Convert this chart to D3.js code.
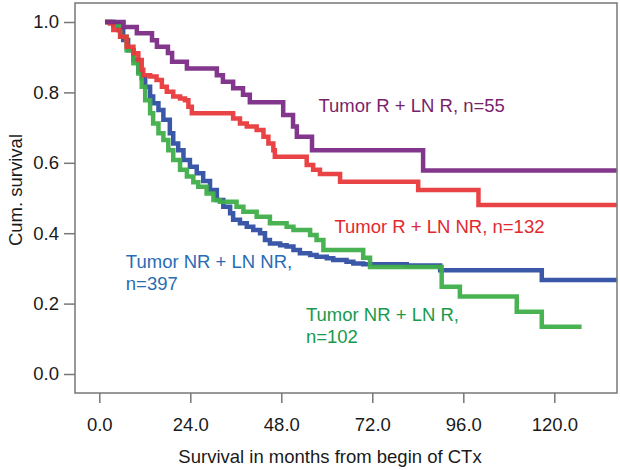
<!DOCTYPE html>
<html><head><meta charset="utf-8">
<script src="https://cdn.jsdelivr.net/npm/d3@7"></script>
<style>
body{margin:0;background:#fff}
text{font-family:"Liberation Sans",Arial,Helvetica,sans-serif}
</style>
</head><body>
<svg id="chart" width="620" height="470"></svg>
<script>
// ---- data ----
const xTicks = [0, 24, 48, 72, 96, 120];
const yTicks = [0, 0.2, 0.4, 0.6, 0.8, 1.0];
const xTitle = "Survival in months from begin of CTx";
const yTitle = "Cum. survival";

// Tumor R + LN R, n=55
const purpleMonths = [1.5, 6.4, 9.9, 13.9, 15.2, 18.1, 19.2, 23.1, 31.0, 32.6, 35.3, 37.9, 39.7, 48.5, 51.1, 52.1, 56.1, 85.4, 136.5];
const purpleSurv   = [1.0, 0.986, 0.968, 0.948, 0.930, 0.912, 0.887, 0.868, 0.849, 0.830, 0.812, 0.793, 0.772, 0.736, 0.703, 0.674, 0.636, 0.578, 0.578];

// Tumor R + LN NR, n=132
const redMonths = [1.5, 2.8, 3.7, 5.5, 7.2, 9.0, 10.3, 11.2, 11.6, 13.4, 15.1, 16.5, 17.8, 19.5, 21.3, 22.6, 23.5, 24.4, 35.3, 37.1, 38.9, 41.5, 43.3, 44.6, 45.9, 46.3, 54.7, 56.4, 58.2, 63.5, 84.1, 100.0, 136.5];
const redSurv   = [1.0, 0.996, 0.977, 0.958, 0.930, 0.911, 0.892, 0.864, 0.849, 0.845, 0.835, 0.816, 0.802, 0.788, 0.783, 0.778, 0.759, 0.741, 0.726, 0.712, 0.703, 0.693, 0.674, 0.655, 0.636, 0.617, 0.594, 0.580, 0.568, 0.546, 0.523, 0.480, 0.480];

// Tumor NR + LN NR, n=397
const blueMonths = [1.5, 3.7, 5.0, 6.3, 7.6, 9.0, 10.3, 11.2, 12.1, 13.4, 14.2, 15.6, 16.9, 18.6, 19.5, 20.8, 22.2, 23.9, 25.7, 27.4, 29.2, 31.0, 32.7, 34.5, 35.3, 37.1, 38.9, 40.6, 42.4, 43.7, 45.0, 47.7, 49.4, 51.2, 52.9, 55.6, 57.3, 60.0, 61.7, 65.2, 67.0, 69.6, 81.1, 89.9, 116.7, 136.5];
const blueSurv   = [1.0, 0.996, 0.977, 0.949, 0.920, 0.892, 0.859, 0.840, 0.816, 0.788, 0.769, 0.750, 0.722, 0.684, 0.655, 0.636, 0.608, 0.589, 0.570, 0.548, 0.523, 0.494, 0.475, 0.457, 0.438, 0.428, 0.418, 0.409, 0.400, 0.381, 0.371, 0.366, 0.362, 0.352, 0.343, 0.338, 0.333, 0.329, 0.324, 0.319, 0.314, 0.312, 0.308, 0.295, 0.267, 0.267];

// Tumor NR + LN R, n=102
const greenMonths = [1.5, 3.7, 5.5, 7.2, 9.0, 10.3, 11.2, 12.1, 13.4, 14.2, 15.6, 16.9, 18.2, 19.5, 21.3, 23.1, 24.8, 26.1, 28.3, 30.1, 31.8, 36.2, 38.0, 41.5, 45.0, 49.4, 51.2, 55.6, 57.3, 59.1, 69.6, 71.4, 90.3, 95.1, 110.1, 116.7, 127.2];
const greenSurv   = [1.0, 0.991, 0.958, 0.920, 0.883, 0.854, 0.816, 0.778, 0.741, 0.712, 0.684, 0.665, 0.636, 0.608, 0.580, 0.561, 0.545, 0.532, 0.513, 0.494, 0.489, 0.475, 0.461, 0.447, 0.428, 0.418, 0.409, 0.395, 0.381, 0.352, 0.330, 0.304, 0.248, 0.220, 0.177, 0.134, 0.134];

const seriesNames  = ["Tumor NR + LN NR", "Tumor NR + LN R", "Tumor R + LN NR", "Tumor R + LN R"];
const seriesColors = ["#2f4ea3", "#3fae49", "#e8393b", "#7b2c86"];
const labelColors  = ["#2a6cb3", "#179a4c", "#e2292f", "#7a1f6c"];
const labelLines = [
  ["Tumor NR + LN NR,", "n=397"],
  ["Tumor NR + LN R,", "n=102"],
  ["Tumor R + LN NR, n=132"],
  ["Tumor R + LN R, n=55"]
];
const labelAnchors = [[7, 0.30], [54.5, 0.15], [62, 0.40], [57.8, 0.745]]; // [month, survival] of label top-left line baseline

// ---- drawing ----
const svg = d3.select("#chart");
const frame = {left: 75, top: 3, right: 617, bottom: 393};
const x = d3.scaleLinear().domain([0, 120]).range([99.3, 554.3]);
const y = d3.scaleLinear().domain([0, 1]).range([374, 22]);

svg.append("defs").append("clipPath").attr("id", "clip")
  .append("rect").attr("x", frame.left).attr("y", frame.top)
  .attr("width", frame.right - frame.left).attr("height", frame.bottom - frame.top);

const series = [
  {m: blueMonths, s: blueSurv},
  {m: greenMonths, s: greenSurv},
  {m: redMonths, s: redSurv},
  {m: purpleMonths, s: purpleSurv}
];

const line = d3.line().x(d => x(d[0])).y(d => y(d[1])).curve(d3.curveStepAfter);
const g = svg.append("g").attr("clip-path", "url(#clip)");
series.forEach((ser, i) => {
  const pts = ser.m.map((m, j) => [m, ser.s[j]]);
  g.append("path").datum(pts)
    .attr("d", line)
    .attr("fill", "none")
    .attr("stroke", seriesColors[i])
    .attr("stroke-width", 4.5)
    .attr("stroke-linejoin", "miter")
    .attr("opacity", 0.95);
});

// frame
svg.append("rect").attr("x", frame.left).attr("y", frame.top)
  .attr("width", frame.right - frame.left).attr("height", frame.bottom - frame.top)
  .attr("fill", "none").attr("stroke", "#777").attr("stroke-width", 1.5);

const fmt = d3.format(".1f");
const xAxis = svg.append("g").attr("transform", `translate(0,${frame.bottom})`)
  .call(d3.axisBottom(x).tickValues(xTicks).tickFormat(fmt).tickSize(10).tickPadding(15).tickSizeOuter(0));
const yAxis = svg.append("g").attr("transform", `translate(${frame.left},0)`)
  .call(d3.axisLeft(y).tickValues(yTicks).tickFormat(fmt).tickSize(11).tickPadding(5).tickSizeOuter(0));
[xAxis, yAxis].forEach(a => {
  a.select(".domain").remove();
  a.selectAll(".tick line").attr("stroke", "#777").attr("stroke-width", 1.5);
  a.selectAll(".tick text").attr("fill", "#1a1a1a").style("font-size", "18.5px")
    .style("font-family", '"Liberation Sans",Arial,Helvetica,sans-serif');
});

svg.append("text").attr("x", 330).attr("y", 463).attr("text-anchor", "middle")
  .attr("fill", "#1a1a1a").style("font-size", "18.5px").text(xTitle);
svg.append("text").attr("transform", "translate(22,190) rotate(-90)").attr("text-anchor", "middle")
  .attr("fill", "#1a1a1a").style("font-size", "18.5px").text(yTitle);

// series labels
labelLines.forEach((lines, i) => {
  const t = svg.append("text").attr("x", x(labelAnchors[i][0])).attr("y", y(labelAnchors[i][1]))
    .attr("fill", labelColors[i]).style("font-size", "18.5px");
  lines.forEach((l, k) => t.append("tspan").attr("x", x(labelAnchors[i][0])).attr("dy", k === 0 ? 0 : 21.5).text(l));
});
</script>
</body></html>
